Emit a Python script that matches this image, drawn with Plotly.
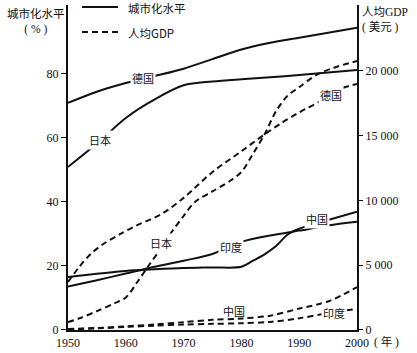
import plotly.graph_objects as go

# ---------------- data ----------------
urban_years = [1950, 1955, 1960, 1965, 1970, 1975, 1980, 1985, 1990, 1995, 2000]
de_urban = [70.9, 74.4, 77.1, 79.3, 81.6, 84.6, 87.6, 89.7, 91.3, 92.8, 94.4]
jp_urban = [50.9, 58.2, 66.2, 72.0, 76.4, 77.6, 78.3, 78.9, 79.6, 80.4, 81.2]
in_urban = [13.5, 15.5, 17.6, 19.7, 21.6, 23.7, 27.5, 29.5, 31.0, 32.6, 33.75]
cn_urban_years = [1950, 1955, 1960, 1965, 1970, 1975, 1980, 1982, 1984, 1986, 1988, 1990, 1995, 2000]
cn_urban = [16.5, 17.5, 18.4, 18.9, 19.3, 19.5, 19.7, 21.6, 23.6, 26.2, 29.8, 31.6, 34.3, 36.9]

de_gdp_years = [1950, 1952, 1954, 1956, 1959, 1962, 1966, 1970, 1975, 1980, 1984, 1987, 1990, 1994, 1997, 2000]
de_gdp = [3700, 4900, 5900, 6600, 7400, 8100, 8900, 10200, 12200, 13800, 15100, 16000, 16800, 17750, 18600, 19000]
jp_gdp_years = [1950, 1952, 1955, 1958, 1960, 1962, 1964, 1966, 1968, 1970, 1972, 1975, 1978, 1980,
                1982, 1984, 1986, 1988, 1990, 1993, 1996, 2000]
jp_gdp = [600, 900, 1450, 2050, 2500, 3700, 5000, 6250, 7600, 8800, 9900, 10700, 11500, 12200,
          13600, 15100, 16900, 18100, 18750, 19700, 20250, 20770]
gdp_years_low = [1950, 1955, 1960, 1965, 1970, 1975, 1980, 1985, 1990, 1995, 2000]
cn_gdp = [80, 150, 280, 420, 600, 780, 880, 1100, 1650, 2200, 3300]
in_gdp = [60, 120, 230, 330, 420, 470, 520, 620, 900, 1300, 1620]

x_ticks = [1950, 1960, 1970, 1980, 1990, 2000]
y1_ticks = [0, 20, 40, 60, 80]
y2_ticks = [0, 5000, 10000, 15000, 20000]
y2_ticktext = ["0", "5 000", "10 000", "15 000", "20 000"]

legend_urban = "城市化水平"
legend_gdp = "人均GDP"

# ---------------- styling ----------------
INK = "#111111"
SERIF = "Liberation Serif, Noto Sans CJK SC, serif"
CJK = "Noto Sans CJK SC, sans-serif"
DASH = "6px,4px"

# plot area in pixels: x 68..357, y 5..330
def px_x(px):
    return (px - 68) / 289

def px_y(py):
    return (330 - py) / 325

fig = go.Figure()

def solid(x, y):
    fig.add_trace(go.Scatter(x=x, y=y, mode="lines", showlegend=False,
                             line=dict(color=INK, width=2, shape="spline", smoothing=0.9),
                             hoverinfo="skip"))

def dashed(x, y):
    fig.add_trace(go.Scatter(x=x, y=y, mode="lines", showlegend=False, yaxis="y2",
                             line=dict(color=INK, width=2, dash=DASH, shape="spline", smoothing=0.9),
                             hoverinfo="skip"))

solid(urban_years, de_urban)
solid(urban_years, jp_urban)
solid(cn_urban_years, cn_urban)
solid(urban_years, in_urban)

dashed(de_gdp_years, de_gdp)
dashed(jp_gdp_years, jp_gdp)
dashed(gdp_years_low, cn_gdp)
dashed(gdp_years_low, in_gdp)

# legend (key lines + texts) at the top
for py, dash, txt in [(7, "solid", legend_urban), (32, DASH, legend_gdp)]:
    fig.add_shape(type="line", xref="paper", yref="paper",
                  x0=px_x(82), x1=px_x(118), y0=px_y(py), y1=px_y(py),
                  line=dict(color=INK, width=2, dash=dash))
    fig.add_annotation(x=px_x(126), y=px_y(py + 1), xref="paper", yref="paper", text=txt,
                       showarrow=False, xanchor="left", yanchor="middle",
                       font=dict(family=CJK, size=11.5, color=INK))

# curve labels (white boxes make the gaps in the lines)
labels = [
    ("德国", 1962.9, 78.6, "y", True),
    ("日本", 1955.5, 59.4, "y", True),
    ("中国", 1993.1, 34.7, "y", True),
    ("印度", 1978.2, 25.9, "y", True),
    ("德国", 1995.5, 18150, "y2", True),
    ("日本", 1966.1, 6720, "y2", True),
    ("中国", 1978.7, 1470, "y2", False),
    ("印度", 1996.0, 1310, "y2", True),
]
for txt, lx, ly, yr, bg in labels:
    fig.add_annotation(x=lx, y=ly, xref="x", yref=yr, text=txt, showarrow=False,
                       font=dict(family=CJK, size=11, color=INK),
                       bgcolor="white" if bg else "rgba(0,0,0,0)", borderpad=1)

# axis titles
def paper_text(txt, px, py, anchor="center", align="center"):
    fig.add_annotation(x=px_x(px), y=px_y(py), xref="paper", yref="paper",
                       text=txt, showarrow=False, xanchor=anchor, yanchor="middle", align=align,
                       font=dict(family=SERIF, size=11.5, color=INK))

paper_text("城市化水平<br>( % )", 36, 22)
paper_text("人均GDP<br>( 美元 )", 360, 20, "left", "left")
paper_text("( 年 )", 386, 342)

fig.update_layout(
    width=417, height=353,
    margin=dict(l=68, r=60, t=5, b=23, autoexpand=False),
    paper_bgcolor="white", plot_bgcolor="white",
    font=dict(family=SERIF, size=12, color=INK),
    showlegend=False,
    xaxis=dict(range=[1950, 2000], tickvals=x_ticks, showline=True, linecolor=INK, linewidth=2,
               ticks="", showgrid=False, zeroline=False, ticklabelstandoff=1,
               tickfont=dict(family=SERIF, size=12, color=INK)),
    yaxis=dict(range=[-0.05, 101.5], tickvals=y1_ticks, showline=True, linecolor=INK, linewidth=2,
               ticks="outside", ticklen=5, tickwidth=1, tickcolor=INK, showgrid=False,
               zeroline=False, tickfont=dict(family=SERIF, size=12, color=INK)),
    yaxis2=dict(range=[-5, 25097], tickvals=y2_ticks, ticktext=y2_ticktext, overlaying="y",
                side="right", showline=True, linecolor=INK, linewidth=2,
                ticks="outside", ticklen=4, tickwidth=1, tickcolor=INK, showgrid=False,
                zeroline=False, tickfont=dict(family=SERIF, size=12, color=INK)),
)

fig.write_html("out.html")
